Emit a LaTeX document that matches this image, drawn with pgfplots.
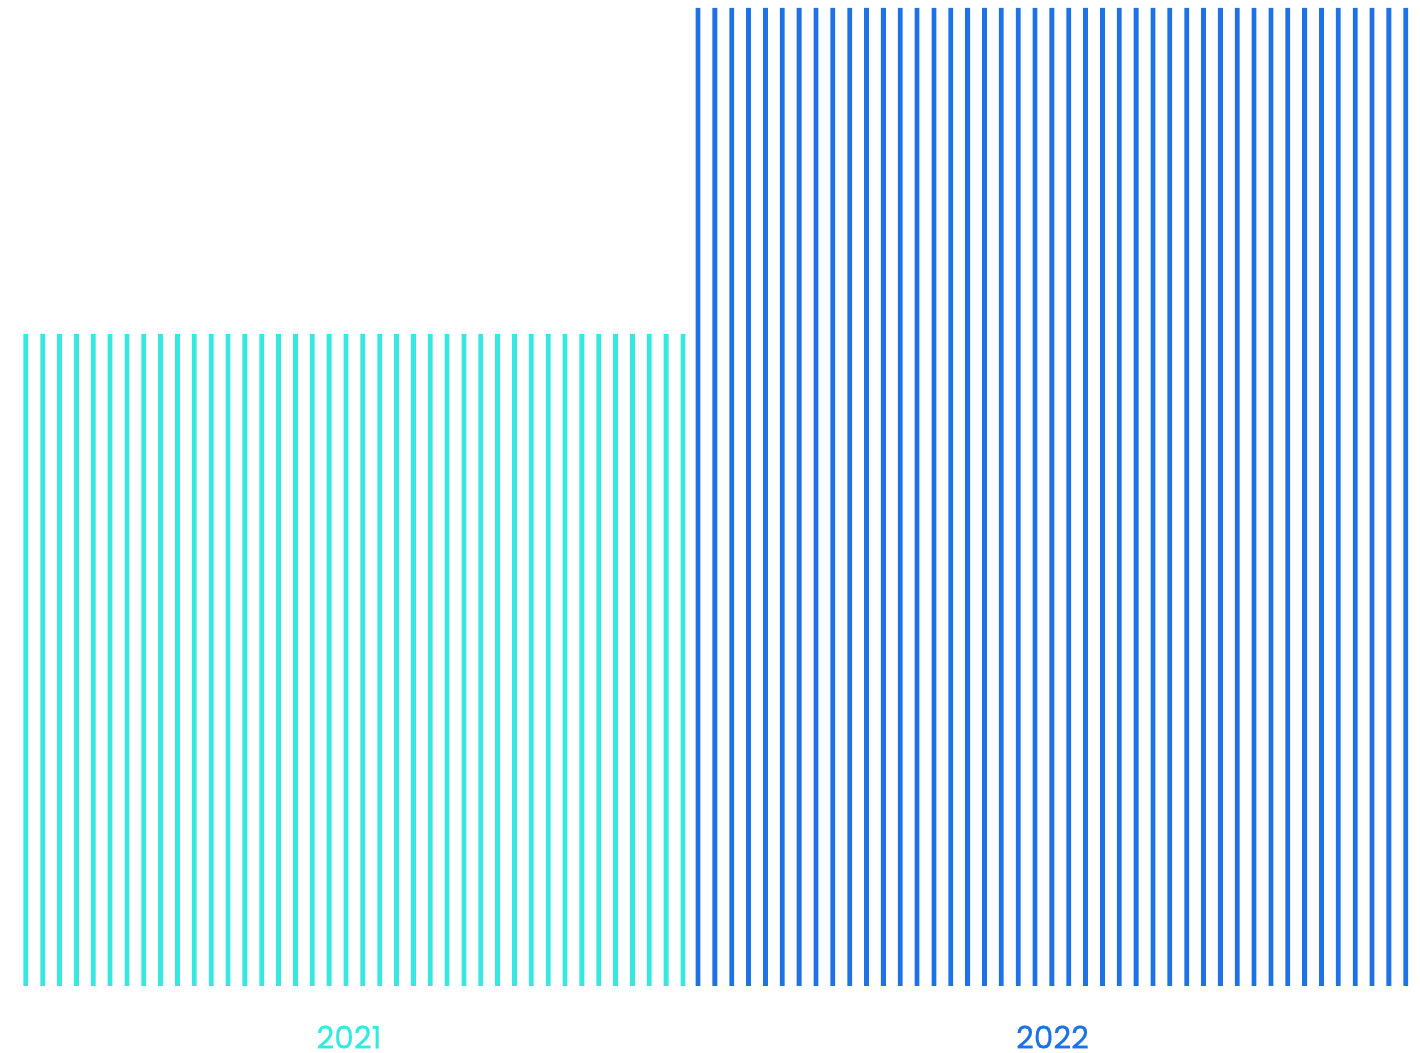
\documentclass[border=0pt]{standalone}
\usepackage{pgfplots}
\pgfplotsset{compat=1.18}
\usepackage{fontspec}
\setmainfont{Poppins}
\newfontfamily\labfont[FakeBold=0.6]{Poppins}
\definecolor{cA}{RGB}{54,232,224}
\definecolor{cB}{RGB}{31,113,230}
\begin{document}
\begin{tikzpicture}
\begin{axis}[
  width=710pt, height=526pt, scale only axis,
  xmin=0, xmax=1420, ymin=-0.2025, ymax=3.0245,
  hide axis, clip=false,
  ybar, bar width=2.4pt, bar shift=0pt,
]
\path (rel axis cs:0,0) rectangle (rel axis cs:1,1);
% 2021 (value 2)
\addplot[fill=cA, draw=none] coordinates {
(25.8,2) (42.65,2) (59.5,2) (76.35,2) (93.2,2) (110.05,2) (126.9,2) (143.75,2) (160.6,2) (177.45,2)
(194.3,2) (211.15,2) (228.0,2) (244.85,2) (261.7,2) (278.55,2) (295.4,2) (312.25,2) (329.1,2) (345.95,2)
(362.8,2) (379.65,2) (396.5,2) (413.35,2) (430.2,2) (447.05,2) (463.9,2) (480.75,2) (497.6,2) (514.45,2)
(531.3,2) (548.15,2) (565.0,2) (581.85,2) (598.7,2) (615.55,2) (632.4,2) (649.25,2) (666.1,2) (682.95,2)
};
% 2022 (value 3)
\addplot[fill=cB, draw=none] coordinates {
(698.0,3) (714.85,3) (731.7,3) (748.55,3) (765.4,3) (782.25,3) (799.1,3) (815.95,3) (832.8,3) (849.65,3)
(866.5,3) (883.35,3) (900.2,3) (917.05,3) (933.9,3) (950.75,3) (967.6,3) (984.45,3) (1001.3,3) (1018.15,3)
(1035.0,3) (1051.85,3) (1068.7,3) (1085.55,3) (1102.4,3) (1119.25,3) (1136.1,3) (1152.95,3) (1169.8,3) (1186.65,3)
(1203.5,3) (1220.35,3) (1237.2,3) (1254.05,3) (1270.9,3) (1287.75,3) (1304.6,3) (1321.45,3) (1338.3,3) (1355.15,3)
(1372.0,3) (1388.85,3) (1405.7,3)
};
\node[text=cA, inner sep=0pt, font=\labfont\fontsize{15.5}{17}\selectfont, anchor=center] at (axis cs:349,-0.1565) {2021};
\node[text=cB, inner sep=0pt, font=\labfont\fontsize{15.5}{17}\selectfont, anchor=center] at (axis cs:1052.5,-0.1565) {2022};
\end{axis}
\end{tikzpicture}
\end{document}
